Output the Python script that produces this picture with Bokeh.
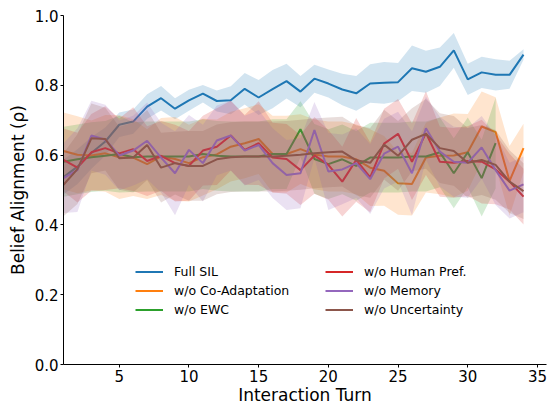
from bokeh.plotting import figure
from bokeh.models import (ColumnDataSource, Legend, LegendItem, FixedTicker,
                          NumeralTickFormatter)
from bokeh.embed import file_html
from bokeh.resources import INLINE

# ---------------- data ----------------
turns = list(range(1, 35))
turns_ewc = list(range(1, 33))

full_sil = [0.537, 0.567, 0.606, 0.639, 0.687, 0.696, 0.739, 0.763, 0.733, 0.757,
            0.776, 0.755, 0.757, 0.790, 0.765, 0.789, 0.812, 0.782, 0.819, 0.805,
            0.788, 0.777, 0.805, 0.807, 0.809, 0.849, 0.839, 0.853, 0.900, 0.817,
            0.837, 0.830, 0.830, 0.888]
full_sil_sd = [0.050, 0.050, 0.045, 0.040, 0.035, 0.035, 0.035, 0.035, 0.030, 0.030,
               0.025, 0.030, 0.040, 0.045, 0.050, 0.055, 0.050, 0.045, 0.040, 0.040,
               0.045, 0.050, 0.055, 0.060, 0.055, 0.065, 0.060, 0.055, 0.050, 0.045,
               0.045, 0.045, 0.040, 0.015]

co_adapt = [0.612, 0.601, 0.599, 0.605, 0.594, 0.593, 0.574, 0.596, 0.589, 0.577,
            0.594, 0.602, 0.624, 0.634, 0.646, 0.603, 0.603, 0.617, 0.602, 0.596,
            0.596, 0.588, 0.564, 0.555, 0.519, 0.517, 0.593, 0.598, 0.599, 0.608,
            0.682, 0.666, 0.526, 0.620]
co_adapt_sd = [0.11, 0.11, 0.10, 0.11, 0.12, 0.11, 0.10, 0.11, 0.12, 0.11,
               0.11, 0.10, 0.10, 0.10, 0.10, 0.11, 0.11, 0.10, 0.10, 0.10,
               0.10, 0.10, 0.11, 0.10, 0.09, 0.09, 0.10, 0.11, 0.12, 0.11,
               0.10, 0.10, 0.10, 0.07]

ewc = [0.581, 0.588, 0.594, 0.598, 0.603, 0.594, 0.596, 0.596, 0.596, 0.596,
       0.603, 0.598, 0.596, 0.596, 0.596, 0.603, 0.603, 0.674, 0.589, 0.574,
       0.588, 0.569, 0.593, 0.593, 0.593, 0.596, 0.596, 0.608, 0.548, 0.608,
       0.534, 0.634]
ewc_sd = [0.10, 0.10, 0.10, 0.10, 0.11, 0.10, 0.10, 0.10, 0.10, 0.10,
          0.10, 0.10, 0.10, 0.10, 0.10, 0.10, 0.10, 0.08, 0.10, 0.10,
          0.10, 0.10, 0.10, 0.10, 0.10, 0.10, 0.10, 0.10, 0.10, 0.10,
          0.11, 0.13]

human_pref = [0.586, 0.564, 0.608, 0.620, 0.605, 0.617, 0.583, 0.598, 0.577, 0.569,
              0.613, 0.624, 0.656, 0.615, 0.634, 0.593, 0.589, 0.557, 0.599, 0.572,
              0.524, 0.586, 0.536, 0.633, 0.661, 0.581, 0.663, 0.581, 0.578, 0.583,
              0.581, 0.559, 0.524, 0.481]
human_pref_sd = [0.09, 0.10, 0.11, 0.12, 0.10, 0.12, 0.10, 0.10, 0.11, 0.10,
                 0.10, 0.11, 0.10, 0.10, 0.12, 0.10, 0.10, 0.10, 0.11, 0.10,
                 0.10, 0.12, 0.10, 0.10, 0.10, 0.11, 0.12, 0.10, 0.10, 0.10,
                 0.12, 0.10, 0.08, 0.08]

memory = [0.534, 0.557, 0.656, 0.644, 0.599, 0.613, 0.641, 0.593, 0.548, 0.615,
          0.577, 0.642, 0.656, 0.613, 0.629, 0.577, 0.543, 0.548, 0.672, 0.553,
          0.559, 0.577, 0.531, 0.604, 0.624, 0.548, 0.677, 0.610, 0.581, 0.578,
          0.622, 0.557, 0.498, 0.516]
memory_sd = [0.10, 0.12, 0.10, 0.10, 0.10, 0.10, 0.11, 0.10, 0.12, 0.10,
             0.11, 0.10, 0.10, 0.10, 0.10, 0.10, 0.10, 0.10, 0.08, 0.11,
             0.10, 0.10, 0.10, 0.10, 0.10, 0.12, 0.09, 0.10, 0.10, 0.10,
             0.09, 0.10, 0.08, 0.08]

uncertainty = [0.515, 0.560, 0.648, 0.646, 0.591, 0.593, 0.629, 0.564, 0.577, 0.569,
               0.569, 0.588, 0.594, 0.596, 0.596, 0.596, 0.598, 0.601, 0.605, 0.608,
               0.610, 0.585, 0.578, 0.630, 0.598, 0.644, 0.661, 0.620, 0.612, 0.578,
               0.586, 0.572, 0.524, 0.497]
uncertainty_sd = [0.09, 0.10, 0.10, 0.09, 0.09, 0.10, 0.10, 0.10, 0.09, 0.10,
                  0.10, 0.10, 0.10, 0.10, 0.10, 0.10, 0.10, 0.10, 0.10, 0.10,
                  0.10, 0.10, 0.10, 0.10, 0.10, 0.09, 0.10, 0.10, 0.10, 0.10,
                  0.10, 0.10, 0.09, 0.08]

labels = ["Full SIL", "w/o Co-Adaptation", "w/o EWC",
          "w/o Human Pref.", "w/o Memory", "w/o Uncertainty"]
colors = ["#1f77b4", "#ff7f0e", "#2ca02c", "#d62728", "#9467bd", "#8c564b"]
x_ticks = [5, 10, 15, 20, 25, 30, 35]
y_ticks = [0.0, 0.2, 0.4, 0.6, 0.8, 1.0]
x_title = "Interaction Turn"
y_title = "Belief Alignment (ρ)"

series = [
    (turns, full_sil, full_sil_sd),
    (turns, co_adapt, co_adapt_sd),
    (turns_ewc, ewc, ewc_sd),
    (turns, human_pref, human_pref_sd),
    (turns, memory, memory_sd),
    (turns, uncertainty, uncertainty_sd),
]

FONT = "DejaVu Sans"

p = figure(width=547, height=407, x_range=(1, 35.65), y_range=(0, 1.0),
           output_backend="svg", toolbar_location=None,
           min_border_left=63, min_border_right=1, min_border_top=15,
           min_border_bottom=43)
p.outline_line_color = None
p.grid.visible = False
p.background_fill_color = "white"
p.border_fill_color = "white"

line_renderers = []
for (xs, ys, sd), col in zip(series, colors):
    lo = [y - s for y, s in zip(ys, sd)]
    hi = [y + s for y, s in zip(ys, sd)]
    src = ColumnDataSource(dict(x=xs, y=ys, lo=lo, hi=hi))
    r = p.line("x", "y", source=src, line_color=col, line_width=2)
    p.varea(x="x", y1="lo", y2="hi", source=src, fill_color=col, fill_alpha=0.2)
    line_renderers.append(r)

# axes
for ax in (p.xaxis[0], p.yaxis[0]):
    ax.axis_line_color = "black"
    ax.axis_line_width = 1
    ax.major_tick_line_color = "black"
    ax.major_tick_out = 3
    ax.major_tick_in = 0
    ax.minor_tick_line_color = None
    ax.major_label_text_font = FONT
    ax.major_label_text_font_size = "15px"
    ax.major_label_text_color = "black"
    ax.axis_label_text_font = FONT
    ax.axis_label_text_font_size = "17px"
    ax.axis_label_text_font_style = "normal"
    ax.axis_label_text_color = "black"
    ax.major_label_standoff = 2

p.xaxis.ticker = FixedTicker(ticks=x_ticks)
p.yaxis.ticker = FixedTicker(ticks=y_ticks)
p.yaxis.formatter = NumeralTickFormatter(format="0.0")
p.xaxis.axis_label = x_title
p.yaxis.axis_label = y_title
p.xaxis.axis_label_standoff = 0
p.yaxis.axis_label_standoff = 4


def make_legend(idx, loc):
    items = [LegendItem(label=labels[i], renderers=[line_renderers[i]]) for i in idx]
    lg = Legend(items=items, location=loc, orientation="vertical",
                border_line_color=None, background_fill_alpha=0,
                padding=0, margin=0, spacing=2,
                glyph_height=17, label_height=17, glyph_width=28,
                label_standoff=11,
                label_text_font=FONT, label_text_font_size="12.5px",
                label_text_color="black")
    return lg


p.add_layout(make_legend([0, 1, 2], (72, 46)))
p.add_layout(make_legend([3, 4, 5], (262, 46)))

open("out.html", "w").write(file_html(p, INLINE))
